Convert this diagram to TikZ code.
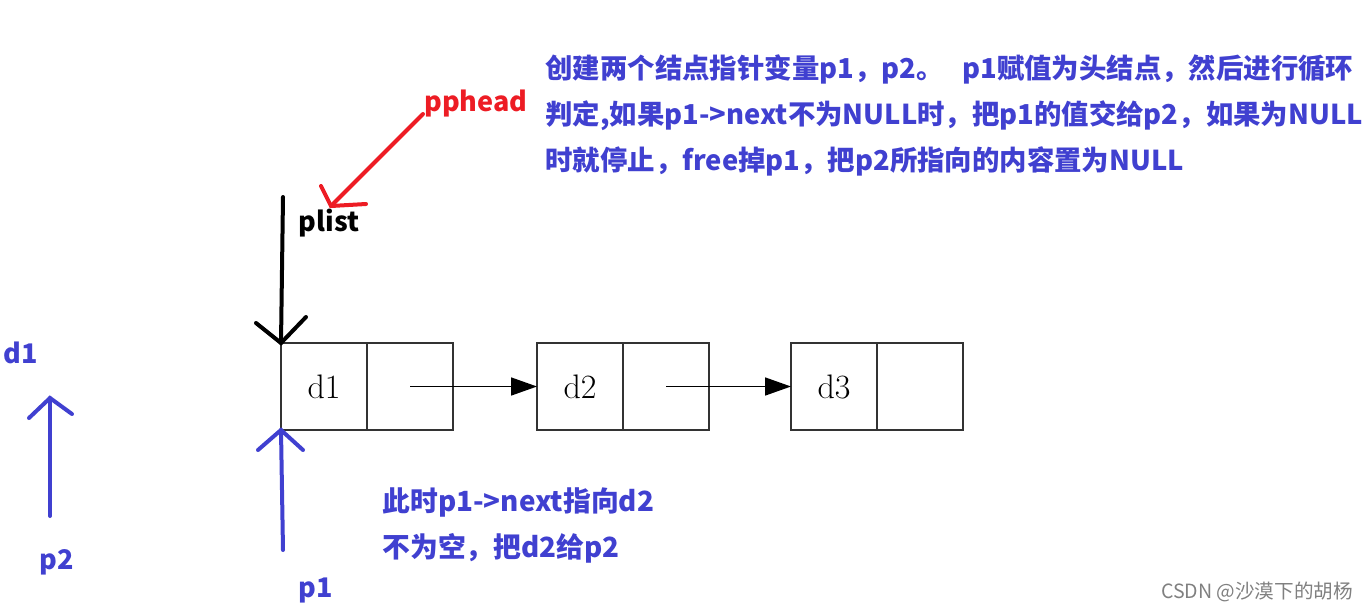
\documentclass[tikz,border=0pt]{standalone}
\usepackage{fontspec}
\newfontfamily\cjk{Noto Sans CJK SC}
\usetikzlibrary{arrows.meta,positioning}
\definecolor{noteblue}{RGB}{64,64,208}
\definecolor{headred}{RGB}{237,28,36}
\tikzset{
  cell/.style={draw=black!80, line width=1pt, minimum width=43pt, minimum height=43.5pt,
    inner sep=0pt, outer sep=0pt, font=\fontsize{17}{20}\selectfont},
  link/.style={line width=0.8pt, -{Triangle[length=13pt,width=9pt]}},
  hand/.style={line width=2pt, line cap=round},
  tag/.style={font=\cjk\bfseries\fontsize{13.5}{15}\selectfont},
  note/.style={font=\cjk\bfseries\fontsize{13.9}{23}\selectfont, text=noteblue, align=left,
    anchor=north west, inner sep=0pt}
}
\begin{document}
\begin{tikzpicture}[x=0.5pt,y=-0.5pt]
  \useasboundingbox (0,0) rectangle (1372,612);
  % linked list
  \node[cell] (d1) at (324,386.5) {d1};
  \node[cell, right=0pt of d1] (n1) {};
  \node[cell] (d2) at (580,386.5) {d2};
  \node[cell, right=0pt of d2] (n2) {};
  \node[cell] (d3) at (834,386.5) {d3};
  \node[cell, right=0pt of d3] (n3) {};
  \draw[link] (n1.center) -- (d2.west);
  \draw[link] (n2.center) -- (d3.west);

  % plist and pphead
  \node[tag] (plist) at (329,223) {plist};
  \node[tag, text=headred] (pphead) at (476,104) {pphead};
  \coordinate (plistTop) at (283,197);
  \draw[hand] (plistTop) -- (d1.north west);
  \draw[hand] (d1.north west) ++(-25,-20) -- (d1.north west) -- ++(25,-26);
  \coordinate (redStart) at (423,114);
  \coordinate (redTip) at (331,206);
  \draw[hand, headred] (redStart) -- (redTip);
  \draw[hand, headred] (redTip) ++(-10,-20) -- (redTip) -- ++(35,-2);

  % p1 pointer
  \node[tag, text=noteblue] (p1) at (316,590) {p1};
  \coordinate (p1Tail) at (283,550);
  \draw[hand, noteblue] (p1Tail) -- (d1.south west);
  \draw[hand, noteblue] (d1.south west) ++(-23,20) -- (d1.south west) -- ++(22,20);

  % p2 pointer
  \node[tag, text=noteblue] (d1p) at (21,353) {d1};
  \node[tag, text=noteblue] (p2) at (57,562) {p2};
  \coordinate (p2Tail) at (50,516);
  \coordinate (p2Tip) at (50,398);
  \draw[hand, noteblue] (p2Tail) -- (p2Tip);
  \draw[hand, noteblue] (p2Tip) ++(-21,20) -- (p2Tip) -- ++(22,16);

  % notes
  \node[note, font=\cjk\bfseries\fontsize{13.7}{23}\selectfont] (topnote) at (545,54) {%
    创建两个结点指针变量p1，p2。\ \ \ p1赋值为头结点，然后进行循环\\
    判定,如果p1->next不为NULL时，把p1的值交给p2，如果为NULL\\
    时就停止，free掉p1，把p2所指向的内容置为NULL};
  \node[note] (lownote) at (382,487) {此时p1->next指向d2\\不为空，把d2给p2};
  \node[font=\cjk\fontsize{9.8}{12}\selectfont, text=black!50, anchor=east] (mark) at (1360,592) {CSDN @沙漠下的胡杨};
\end{tikzpicture}
\end{document}
